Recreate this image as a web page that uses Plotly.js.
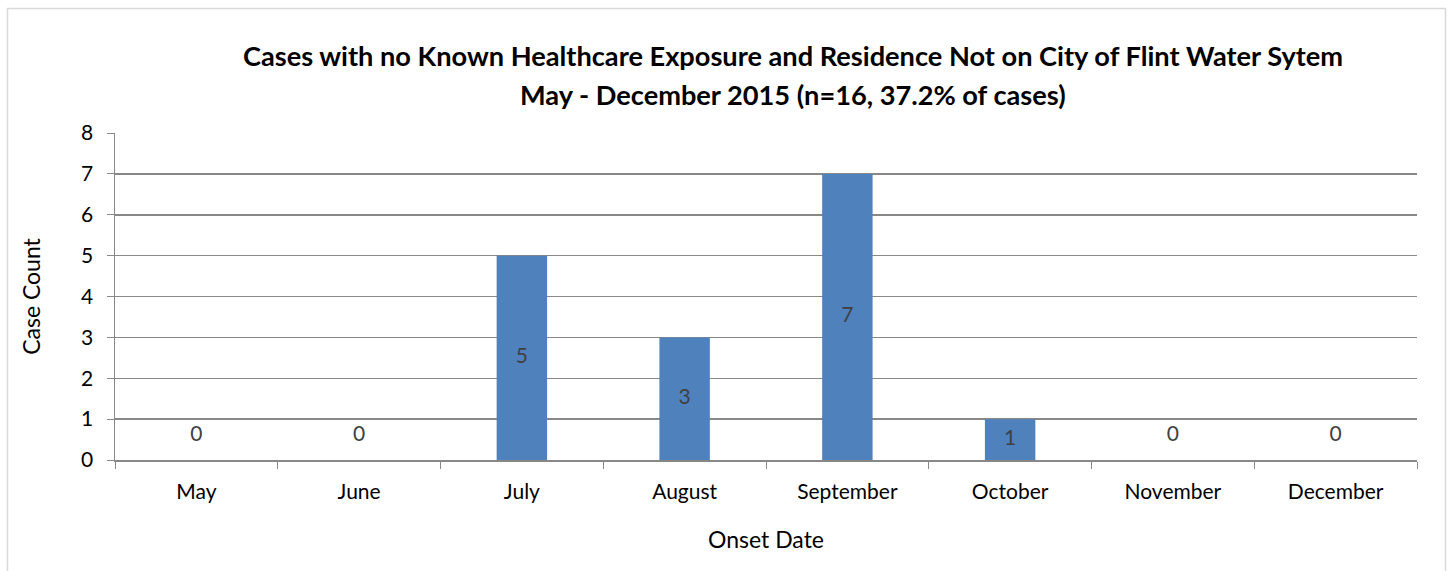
<!DOCTYPE html>
<html>
<head>
<meta charset="utf-8">
<script src="https://cdn.plot.ly/plotly-3.0.1.min.js"></script>
<style>
html,body{margin:0;padding:0;background:#fff;}
#chart{width:1453px;height:571px;}
</style>
</head>
<body>
<div id="chart"></div>
<script>
const months = ["May","June","July","August","September","October","November","December"];
const caseCounts = [0,0,5,3,7,1,0,0];
const titleLine1 = "Cases with no Known Healthcare Exposure and Residence Not on City of Flint Water Sytem";
const titleLine2 = "May - December 2015 (n=16, 37.2% of cases)";
const yTicks = [0,1,2,3,4,5,6,7,8];

const FONT = "Lato, 'Open Sans', sans-serif";
const gridCol = "#888888";

const barTrace = {
  type: "bar",
  x: months,
  y: caseCounts,
  width: 0.31,
  marker: {color: "#4F81BD", line: {width: 0}},
  hoverinfo: "x+y",
  showlegend: false
};

const labelTrace = {
  type: "scatter",
  mode: "text",
  x: months,
  y: caseCounts.map(v => v > 0 ? v / 2 : 0.6),
  text: caseCounts.map(String),
  textposition: "middle center",
  textfont: {family: FONT, size: 21, color: "#404040"},
  hoverinfo: "skip",
  showlegend: false
};

const layout = {
  width: 1453,
  height: 571,
  margin: {l: 115, r: 36, t: 133, b: 111},
  paper_bgcolor: "#fff",
  plot_bgcolor: "#fff",
  font: {family: FONT, size: 21, color: "#000"},
  bargap: 0.69,
  xaxis: {
    type: "category",
    showgrid: false,
    showline: true,
    linecolor: gridCol,
    linewidth: 1.5,
    ticks: "outside",
    ticklen: 7,
    tickcolor: gridCol,
    tickson: "boundaries",
    tickfont: {family: FONT, size: 21, color: "#000"},
    ticklabelstandoff: 12,
    title: {text: "Onset Date", font: {family: FONT, size: 23, color: "#000"}, standoff: 30},
    fixedrange: true
  },
  yaxis: {
    range: [0, 8],
    tickvals: yTicks,
    showgrid: true,
    gridcolor: gridCol,
    gridwidth: 1.5,
    showline: true,
    linecolor: gridCol,
    linewidth: 1.5,
    ticks: "outside",
    ticklen: 7,
    tickcolor: gridCol,
    zeroline: false,
    tickfont: {family: FONT, size: 21, color: "#000"},
    ticklabelstandoff: 9,
    title: {text: "Case Count", font: {family: FONT, size: 23, color: "#000"}, standoff: 34},
    fixedrange: true
  },
  annotations: [
    {text: "<b>" + titleLine1 + "</b>", xref: "paper", yref: "paper", x: 0.5207, y: 1 + (133 - 55) / 327,
     xanchor: "center", yanchor: "middle", showarrow: false, font: {family: FONT, size: 27.2, color: "#000"}},
    {text: "<b>" + titleLine2 + "</b>", xref: "paper", yref: "paper", x: 0.5207, y: 1 + (133 - 95) / 327,
     xanchor: "center", yanchor: "middle", showarrow: false, font: {family: FONT, size: 27.2, color: "#000"}}
  ],
  shapes: [
    {type: "rect", xref: "paper", yref: "paper", x0: (7.5 - 115) / 1302, x1: (1445.5 - 115) / 1302,
     y0: -0.5, y1: 1 + (133 - 8.5) / 327, line: {color: "#d9d9d9", width: 1.5}, fillcolor: "rgba(0,0,0,0)", layer: "below"}
  ]
};

Plotly.newPlot("chart", [barTrace, labelTrace], layout, {displayModeBar: false, staticPlot: true});
</script>
</body>
</html>
